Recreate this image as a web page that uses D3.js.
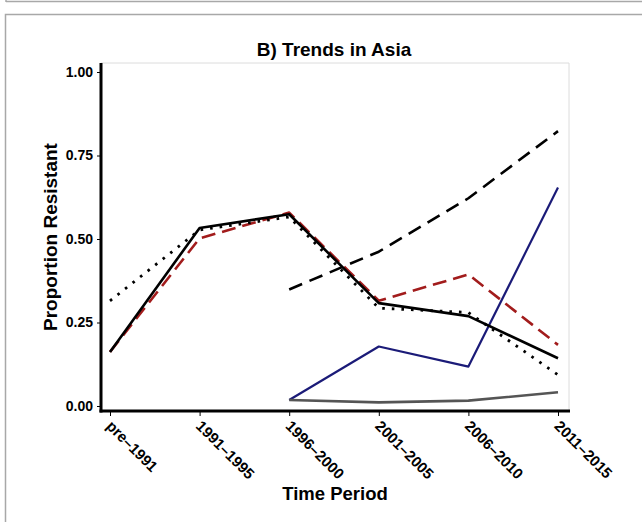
<!DOCTYPE html>
<html>
<head>
<meta charset="utf-8">
<script src="https://cdn.jsdelivr.net/npm/d3@7"></script>
<style>
  html, body { margin: 0; padding: 0; background: #fff; }
  svg { display: block; font-family: "Liberation Sans", Arial, Helvetica, sans-serif; }
</style>
</head>
<body>
<svg id="chart" width="642" height="522"></svg>
<script>
// Time periods on the x axis
const periods = ["pre\u20131991", "1991\u20131995", "1996\u20132000", "2001\u20132005", "2006\u20132010", "2011\u20132015"];
const yTicks = [0, 0.25, 0.5, 0.75, 1.0];

// Proportion resistant per period (null = no data for that period)
const solidBlack  = [0.162, 0.533, 0.574, 0.308, 0.269, 0.143];
const dashedRed   = [0.162, 0.502, 0.579, 0.315, 0.394, 0.183];
const dottedBlack = [0.315, 0.527, 0.566, 0.293, 0.280, 0.093];
const longDash    = [null, null, 0.349, 0.462, 0.622, 0.823];
const navyLine    = [null, null, 0.018, 0.178, 0.118, 0.654];
const grayLine    = [null, null, 0.018, 0.011, 0.016, 0.041];

const series = [
  { values: longDash,    color: "#000000", width: 2.6, dash: "14,8"  },
  { values: navyLine,    color: "#1b1b78", width: 2.2, dash: null    },
  { values: grayLine,    color: "#555555", width: 2.6, dash: null    },
  { values: dashedRed,   color: "#a21c1c", width: 2.6, dash: "14,7"  },
  { values: dottedBlack, color: "#000000", width: 2.8, dash: "2.6,7" },
  { values: solidBlack,  color: "#000000", width: 2.6, dash: null    }
];

const svg = d3.select("#chart");

// outer frames
svg.append("line").attr("x1", 6).attr("x2", 642).attr("y1", 1.5).attr("y2", 1.5)
  .attr("stroke", "#a8a8a8").attr("stroke-width", 1.5);
svg.append("line").attr("x1", 6).attr("x2", 6).attr("y1", 0).attr("y2", 2)
  .attr("stroke", "#a8a8a8").attr("stroke-width", 1.5);
svg.append("path").attr("d", "M5.5,522 V14.5 H642")
  .attr("fill", "none").attr("stroke", "#a8a8a8").attr("stroke-width", 1.5);

const panel = { left: 101, right: 569, top: 63, bottom: 411 };

const x = d3.scalePoint().domain(periods).range([110, 558]);
const y = d3.scaleLinear().domain([0, 1]).range([406, 72]);

// panel border (light)
svg.append("path")
  .attr("d", `M${panel.left},${panel.top} H${panel.right} V${panel.bottom}`)
  .attr("fill", "none").attr("stroke", "#dcdcdc").attr("stroke-width", 1);

// lines
const line = d3.line()
  .defined(d => d != null)
  .x((d, i) => x(periods[i]))
  .y(d => y(d));

series.forEach(s => {
  svg.append("path")
    .datum(s.values)
    .attr("d", line)
    .attr("fill", "none")
    .attr("stroke", s.color)
    .attr("stroke-width", s.width)
    .attr("stroke-linejoin", "round")
    .attr("stroke-linecap", "butt")
    .attr("stroke-dasharray", s.dash);
});

// y axis
const yAxis = svg.append("g")
  .attr("transform", `translate(${panel.left},0)`)
  .call(d3.axisLeft(y).tickValues(yTicks).tickFormat(d3.format(".2f")).tickSize(4).tickPadding(4));
yAxis.select(".domain").remove();
yAxis.selectAll(".tick line").attr("stroke", "#000").attr("stroke-width", 1);
yAxis.selectAll(".tick text").attr("font-size", 14).attr("font-weight", "bold").attr("fill", "#000")
  .attr("font-family", "Liberation Sans, Arial, sans-serif");
svg.append("line").attr("x1", panel.left).attr("x2", panel.left)
  .attr("y1", panel.top).attr("y2", panel.bottom + 1.5)
  .attr("stroke", "#000").attr("stroke-width", 3);

// x axis
const xAxis = svg.append("g")
  .attr("transform", `translate(0,${panel.bottom})`)
  .call(d3.axisBottom(x).tickSize(5).tickPadding(4));
xAxis.select(".domain").remove();
xAxis.selectAll(".tick line").attr("stroke", "#000").attr("stroke-width", 1);
xAxis.selectAll(".tick text")
  .attr("font-size", 15).attr("font-weight", "bold").attr("fill", "#000")
  .attr("font-family", "Liberation Sans, Arial, sans-serif")
  .attr("text-anchor", "start")
  .attr("dy", null)
  .attr("y", 0)
  .attr("transform", "translate(-5,16) rotate(45)");
svg.append("line").attr("x1", panel.left - 1.5).attr("x2", panel.right + 1)
  .attr("y1", panel.bottom).attr("y2", panel.bottom)
  .attr("stroke", "#000").attr("stroke-width", 3);

// titles
svg.append("text").attr("x", 334).attr("y", 56)
  .attr("text-anchor", "middle").attr("font-size", 19).attr("font-weight", "bold")
  .text("B) Trends in Asia");
svg.append("text").attr("x", 335).attr("y", 500)
  .attr("text-anchor", "middle").attr("font-size", 18.5).attr("font-weight", "bold")
  .text("Time Period");
svg.append("text")
  .attr("transform", `translate(57,${(panel.top + panel.bottom) / 2}) rotate(-90)`)
  .attr("text-anchor", "middle").attr("font-size", 19).attr("font-weight", "bold")
  .text("Proportion Resistant");
</script>
</body>
</html>
